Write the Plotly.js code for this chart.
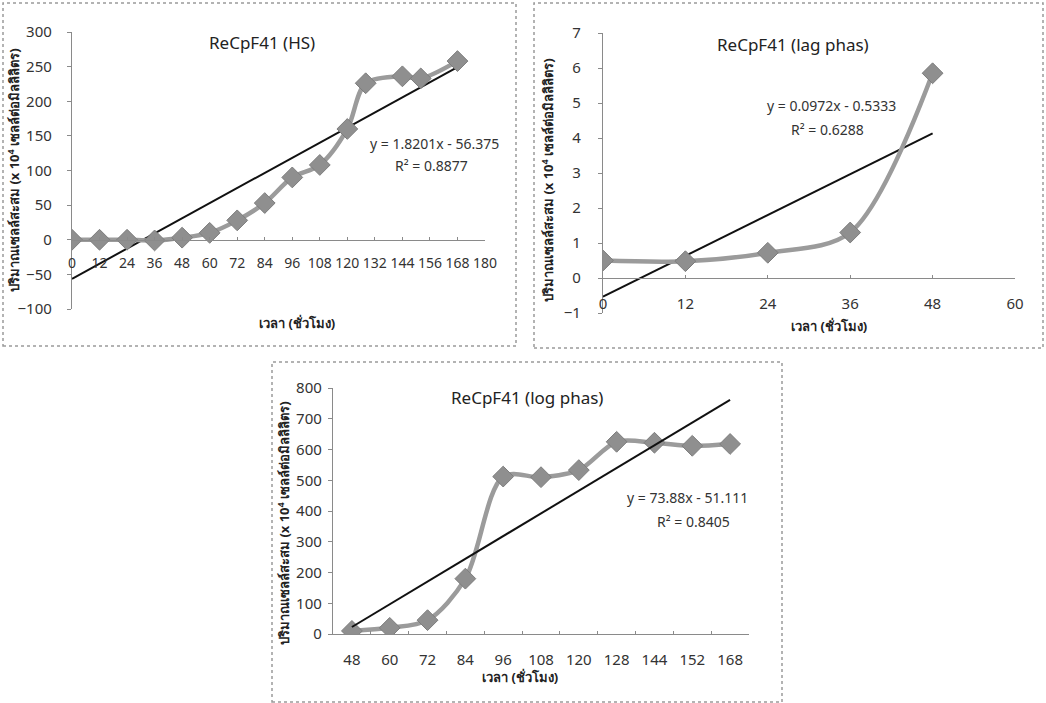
<!DOCTYPE html>
<html>
<head>
<meta charset="utf-8">
<script src="https://cdn.plot.ly/plotly-3.0.1.min.js"></script>
<style>html,body{margin:0;padding:0;background:#fff;}#chart{width:1046px;height:703px;}</style>
</head>
<body>
<div id="chart"></div>
<script>
// ---- Data ----
const hsHours = [0, 12, 24, 36, 48, 60, 72, 84, 96, 108, 120, 128, 144, 152, 168];
const hsCells = [0, 0, 0, -1, 3, 10, 28, 53, 90, 108, 160, 226, 236, 233, 258];
const hsTrend = {slope: 1.8201, intercept: -56.375, r2: 0.8877, from: 0, to: 168};

const lagHours = [0, 12, 24, 36, 48];
const lagCells = [0.5, 0.48, 0.72, 1.3, 5.85];
const lagTrend = {slope: 0.0972, intercept: -0.5333, r2: 0.6288, from: 0, to: 48};

const logHours = ["48", "60", "72", "84", "96", "108", "120", "128", "144", "152", "168"];
const logCells = [10, 20, 45, 180, 512, 510, 533, 625, 622, 612, 618];
const logTrend = {slope: 73.88, intercept: -51.111, r2: 0.8405, from: 1, to: 11};

const titles = ["ReCpF41 (HS)", "ReCpF41 (lag phas)", "ReCpF41 (log phas)"];
const yTitle = "ปริมาณเซลล์สะสม (x 10<sup>4</sup> เซลล์ต่อมิลลิลิตร)";
const xTitle = "เวลา (ชั่วโมง)";

// ---- Layout helpers ----
const W = 1046, H = 703;
const px = x => x / W;
const py = y => 1 - y / H;
const FONT = "Tahoma, 'Noto Sans', 'DejaVu Sans', sans-serif";
const gray = '#8f8f8f';
const lineGray = '#9b9b9b';

function dataTrace(x, y, xa, ya) {
  return {x: x, y: y, xaxis: xa, yaxis: ya, type: 'scatter', mode: 'lines+markers',
    line: {color: lineGray, width: 4.5, shape: 'spline', smoothing: 0.9},
    marker: {symbol: 'diamond', size: 16, color: gray, line: {color: '#7d7d7d', width: 1}},
    hoverinfo: 'x+y', showlegend: false};
}
function trendTrace(t, xa, ya, cats) {
  const ends = [t.from, t.to];
  const xs = cats ? ends.map(v => cats[v - 1]) : ends;
  const ys = ends.map(v => t.slope * v + t.intercept);
  return {x: xs, y: ys, xaxis: xa, yaxis: ya, type: 'scatter', mode: 'lines',
    line: {color: '#111', width: 2}, hoverinfo: 'skip', showlegend: false};
}

const traces = [
  trendTrace(hsTrend, 'x', 'y'),
  dataTrace(hsHours, hsCells, 'x', 'y'),
  trendTrace(lagTrend, 'x2', 'y2'),
  dataTrace(lagHours, lagCells, 'x2', 'y2'),
  dataTrace(logHours, logCells, 'x3', 'y3'),
  trendTrace(logTrend, 'x3', 'y3', logHours)
];

// axis domains (pixel-derived)
const d1x = [px(72), px(485)], d1y = [py(309), py(32)];
const d2x = [px(603), px(1015)], d2y = [py(313), py(33)];
const d3x = [px(333), px(749)], d3y = [py(634), py(388)];
const zeroPos = (dom, lo, hi) => dom[0] + (0 - lo) / (hi - lo) * (dom[1] - dom[0]);

const tickFont = {family: FONT, size: 15, color: '#333'};
const axBase = {showgrid: false, zeroline: false, showline: true, linecolor: '#8a8a8a', linewidth: 1.2,
  ticks: 'outside', ticklen: 4, tickcolor: '#8a8a8a', tickfont: tickFont, fixedrange: true};

const layout = {
  width: W, height: H, margin: {l: 0, r: 0, t: 0, b: 0},
  paper_bgcolor: '#fff', plot_bgcolor: 'rgba(0,0,0,0)', showlegend: false,
  font: {family: FONT},
  xaxis: Object.assign({}, axBase, {domain: d1x, range: [0, 180], tickmode: 'linear', tick0: 0, dtick: 12,
    anchor: 'free', position: zeroPos(d1y, -100, 300), ticks: 'inside', ticklen: 3, ticklabelstandoff: 10,
    tickangle: 0, tickfont: {family: FONT, size: 14, color: '#333'}}),
  yaxis: Object.assign({}, axBase, {domain: d1y, range: [-100, 300], tickmode: 'linear', tick0: -100, dtick: 50,
    anchor: 'x', ticklabelstandoff: 12}),
  xaxis2: Object.assign({}, axBase, {domain: d2x, range: [0, 60], tickmode: 'linear', tick0: 0, dtick: 12,
    anchor: 'free', position: zeroPos(d2y, -1, 7), ticks: 'inside', ticklen: 3, ticklabelstandoff: 12, tickangle: 0}),
  yaxis2: Object.assign({}, axBase, {domain: d2y, range: [-1, 7], tickmode: 'linear', tick0: -1, dtick: 1,
    anchor: 'x2', ticklabelstandoff: 14}),
  xaxis3: Object.assign({}, axBase, {domain: d3x, type: 'category', range: [-0.5, 10.5], anchor: 'y3',
    tickson: 'boundaries', ticks: 'inside', ticklen: 3, ticklabelstandoff: 12, tickangle: 0}),
  yaxis3: Object.assign({}, axBase, {domain: d3y, range: [0, 800], tickmode: 'linear', tick0: 0, dtick: 100,
    anchor: 'x3', ticklabelstandoff: 3}),
  shapes: [
    {type: 'rect', xref: 'paper', yref: 'paper', x0: px(3), x1: px(516), y0: py(346), y1: py(3),
      line: {color: '#9a9a9a', width: 1.5, dash: 'dot'}, layer: 'below'},
    {type: 'rect', xref: 'paper', yref: 'paper', x0: px(534), x1: px(1043), y0: py(348), y1: py(3),
      line: {color: '#9a9a9a', width: 1.5, dash: 'dot'}, layer: 'below'},
    {type: 'rect', xref: 'paper', yref: 'paper', x0: px(272), x1: px(782), y0: py(702), y1: py(362),
      line: {color: '#9a9a9a', width: 1.5, dash: 'dot'}, layer: 'below'}
  ],
  annotations: []
};

function ann(text, x, y, opts) {
  layout.annotations.push(Object.assign({text: text, xref: 'paper', yref: 'paper', x: px(x), y: py(y),
    xanchor: 'center', yanchor: 'middle', showarrow: false,
    font: {family: FONT, size: 14, color: '#333'}}, opts || {}));
}
const eq = t => 'y = ' + t.slope + 'x - ' + Math.abs(t.intercept);
const r2 = t => 'R² = ' + t.r2;

// titles
const tF = {family: FONT, size: 17, color: '#222'};
ann(titles[0], 262, 42, {font: tF});
ann(titles[1], 793, 44, {font: tF});
ann(titles[2], 527, 397, {font: tF});
// equations
ann(eq(hsTrend), 434, 143); ann(r2(hsTrend), 431, 165);
ann(eq(lagTrend), 831, 106); ann(r2(lagTrend), 827, 129);
ann(eq(logTrend), 687, 498); ann(r2(logTrend), 693, 521);
// axis titles
const axT = {family: FONT, size: 13, color: '#222', weight: 'bold'};
ann(yTitle, 13, 170, {textangle: -90, font: axT});
ann(yTitle, 548, 180, {textangle: -90, font: axT});
ann(yTitle, 283, 523, {textangle: -90, font: axT});
ann(xTitle, 297, 323, {font: axT});
ann(xTitle, 829, 326, {font: axT});
ann(xTitle, 520, 677, {font: axT});

Plotly.newPlot('chart', traces, layout, {displayModeBar: false, staticPlot: true});
</script>
</body>
</html>
